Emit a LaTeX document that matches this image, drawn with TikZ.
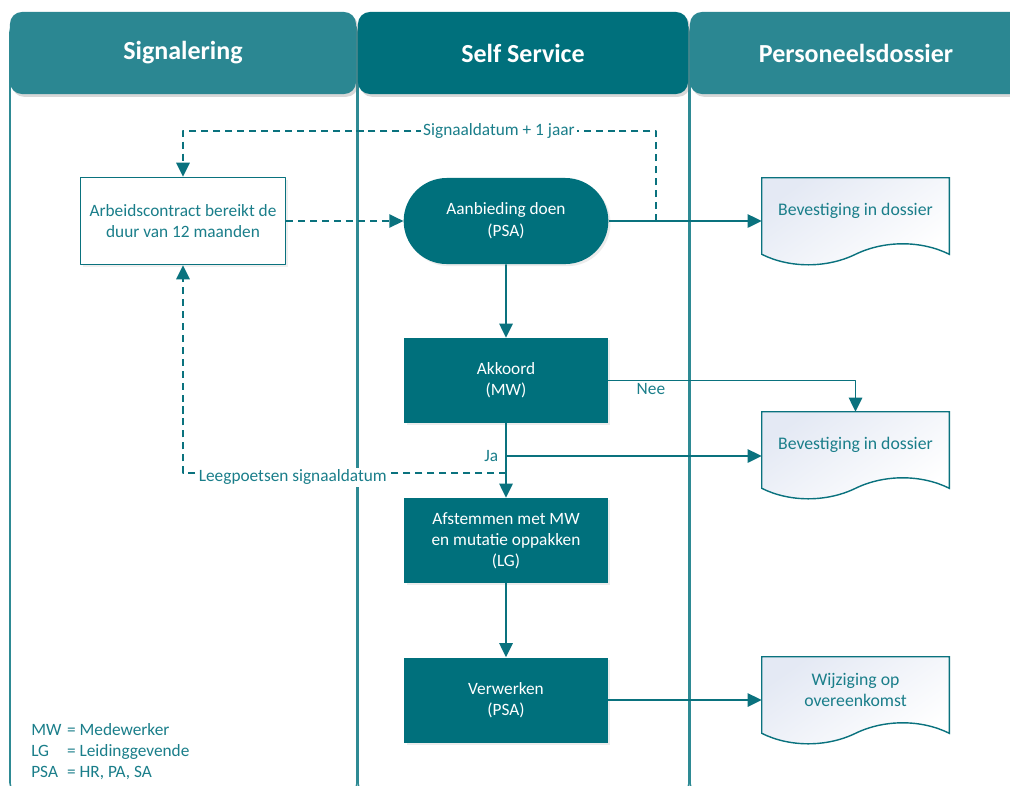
\documentclass[tikz,border=0pt]{standalone}
\usepackage{fontspec}
\setmainfont{Carlito}
\usetikzlibrary{arrows.meta,calc,shapes.misc,shadows,backgrounds}
\definecolor{hdlight}{HTML}{2B8792}
\definecolor{hddark}{HTML}{00707C}
\definecolor{flowcol}{HTML}{0A727E}
\definecolor{txtcol}{HTML}{1A7E8A}
\definecolor{lanecol}{HTML}{2E8A94}
\definecolor{docfill}{HTML}{E4E9F4}
\begin{document}
\begin{tikzpicture}[x=0.025cm, y=-0.025cm, line join=round, >={Triangle[length=10pt,width=9.5pt]},
	font=\fontsize{12.3}{15}\selectfont,
	lane/.style={draw=lanecol, line width=1.1pt, fill=white, rounded corners=0.3cm},
	hdr/.style={rounded corners=0.3cm, minimum height=2.05cm, text=white, font=\fontsize{18.5}{21}\selectfont\bfseries, drop shadow={opacity=0.3, shadow xshift=1.5pt, shadow yshift=-2pt}},
	proc/.style={fill=hddark, text=white, minimum width=5.075cm, minimum height=2.125cm, align=center, drop shadow={opacity=0.15, shadow xshift=1.5pt, shadow yshift=-1.5pt}},
	docbox/.style={text=txtcol, minimum width=4.675cm, minimum height=1.65cm, align=center, font=\fontsize{12.6}{15}\selectfont},
	docline/.style={draw=flowcol, line width=1pt, top color=docfill, bottom color=white, shading angle=35},
	flow/.style={draw=flowcol, line width=1.2pt},
	sig/.style={flow, dash pattern=on 5pt off 3.5pt},
	lbl/.style={text=txtcol, inner sep=1.5pt}]
	\useasboundingbox (0,0) rectangle (1010,785);
	% lanes
	\begin{scope}[on background layer]
		\fill[white] (0,0) rectangle (1010,785);
		\draw[lane] (10,20) rectangle (357,795);
		\draw[lane] (358,20) rectangle (689,795);
		\draw[lane] (690,20) rectangle (1035,795);
	\end{scope}
	\node[hdr, fill=hdlight, minimum width=8.65cm] (hdsig) at (183,53) {Signalering};
	\node[hdr, fill=hddark, minimum width=8.25cm] (hdself) at (523,53) {Self Service};
	\node[hdr, fill=hdlight, minimum width=8.3cm] (hddos) at (856,53) {Personeelsdossier};
	% steps
	\node[draw=flowcol, line width=1pt, fill=white, text=txtcol, align=center, minimum width=5.125cm, minimum height=2.175cm, drop shadow={opacity=0.12, shadow xshift=1.5pt, shadow yshift=-1.5pt}] (arb) at (183,221) {Arbeidscontract bereikt de\\duur van 12 maanden};
	\node[proc, rounded rectangle, minimum width=5.35cm, minimum height=2.15cm, font=\fontsize{12.3}{15.8}\selectfont] (aanb) at (506,221) {Aanbieding doen\\(PSA)};
	\node[proc] (akk) at (506,380.5) {Akkoord\\(MW)};
	\node[proc] (afst) at (506,540.5) {Afstemmen met MW\\en mutatie oppakken\\(LG)};
	\node[proc] (verw) at (506,700) {Verwerken\\(PSA)};
	\node[docbox] (doc1) at (855.5,211) {Bevestiging in dossier};
	\node[docbox] (doc2) at (855.5,445) {Bevestiging in dossier};
	\node[docbox] (doc3) at (855.5,690) {Wijziging op\\overeenkomst};
	\begin{scope}[on background layer]
		\foreach \d in {doc1,doc2,doc3}
		\draw[docline] (\d.north west) -- (\d.north east) -- ($(\d.south east)+(0,10)$)
		.. controls ($(\d.south east)+(-28,-4)$) and ($(\d.south east)+(-65,-4)$) .. ($(\d.south)+(0,10)$)
		.. controls ($(\d.south west)+(65,24)$) and ($(\d.south west)+(28,24)$) .. ($(\d.south west)+(0,10)$) -- cycle;
	\end{scope}
	% legend
	\node[lbl, anchor=west, inner sep=0pt] (legend) at (31,752) {\begin{tabular}{@{}l@{\hspace{4pt}}l@{}}
			MW & = Medewerker\\
			LG & = Leidinggevende\\
			PSA & = HR, PA, SA
	\end{tabular}};
	% connectors
	\coordinate (sigtop) at (656,131);
	\coordinate (jasplit) at (506,456);
	\coordinate (wipe) at (506,473);
	\draw[sig,->] (arb) -- (aanb);
	\draw[flow,->] (aanb.east) -- (aanb.east -| doc1.west);
	\draw[sig,->] (aanb.east -| sigtop) -- (sigtop) -| node[lbl, fill=white, pos=0.166] {Signaaldatum + 1 jaar} (arb.north);
	\draw[flow,->] (aanb) -- (akk);
	\draw[flow,->] (akk.east) -| node[lbl, below, pos=0.087] {Nee} (doc2.north);
	\draw[flow,->] (akk) -- (afst);
	\draw[flow,->] (jasplit) node[lbl, left, inner sep=5pt] {Ja} -- (jasplit -| doc2.west);
	\draw[sig,->] (wipe) -| node[lbl, fill=white, pos=0.33, yshift=-3pt] {Leegpoetsen signaaldatum} (arb.south);
	\draw[flow,->] (afst) -- (verw);
	\draw[flow,->] (verw) -- (verw -| doc3.west);
\end{tikzpicture}
\end{document}
